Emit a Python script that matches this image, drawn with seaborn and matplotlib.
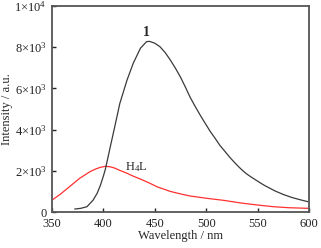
import matplotlib
matplotlib.use('Agg')
import matplotlib.pyplot as plt
import seaborn as sns
import pandas as pd

# ---------------------
# Dados
# ---------------------
wl_1 = [372, 378, 384, 390, 394, 397, 400, 402, 406, 411, 416, 423, 429, 436, 442,
        445, 450, 455, 460, 465, 470, 475, 480, 484, 489, 494, 499, 504, 509, 513,
        518, 523, 527, 531, 535, 539, 543, 548, 553, 557, 562, 567, 575, 583, 591, 599]
int_1 = [145, 180, 260, 580, 920, 1290, 1750, 2100, 3010, 4140, 5280, 6410, 7220, 7950, 8270,
         8280, 8190, 8020, 7740, 7380, 6980, 6540, 6030, 5600, 5140, 4710, 4300, 3900, 3550, 3250,
         2950, 2650, 2430, 2220, 2030, 1860, 1720, 1560, 1400, 1280, 1150, 1020, 850, 710, 600, 500]

wl_h4l = [350, 358, 367, 377, 387, 392, 397, 402, 406, 410, 416, 423, 429, 436, 445,
          452, 465, 475, 484, 500, 518, 523, 535, 550, 565, 580, 599]
int_h4l = [580, 860, 1230, 1640, 1960, 2080, 2170, 2220, 2200, 2150, 2020, 1880, 1740, 1600, 1400,
           1230, 1000, 880, 780, 670, 560, 520, 430, 340, 260, 210, 180]

xticks = [350, 400, 450, 500, 550, 600]
yticks = [0, 2000, 4000, 6000, 8000, 10000]
ytick_labels = ['0', r'$2{\times}10^3$', r'$4{\times}10^3$', r'$6{\times}10^3$',
                r'$8{\times}10^3$', r'$1{\times}10^4$']

df1 = pd.DataFrame({'x': wl_1, 'y': int_1})
df2 = pd.DataFrame({'x': wl_h4l, 'y': int_h4l})

# ---------------------
# Estilo
# ---------------------
sns.set_style('ticks')
plt.rcParams['font.family'] = ['Liberation Serif', 'DejaVu Serif']
plt.rcParams['mathtext.fontset'] = 'custom'
plt.rcParams['mathtext.rm'] = 'Liberation Serif'
plt.rcParams['mathtext.it'] = 'Liberation Serif:italic'

fig = plt.figure(figsize=(3.21, 2.48), dpi=100)
ax = fig.add_axes([0.162, 0.145, 0.801, 0.831])

sns.lineplot(data=df2, x='x', y='y', ax=ax, color='#ff3030', linewidth=0.9, sort=False)
sns.lineplot(data=df1, x='x', y='y', ax=ax, color='#3a3a3a', linewidth=0.9, sort=False)

ax.set_xlim(350, 600)
ax.set_ylim(0, 10000)
ax.set_xticks(xticks)
ax.set_yticks(yticks)
ax.set_yticklabels(ytick_labels)
ax.tick_params(direction='in', length=3, width=1, labelsize=9, colors='#222222')
ax.tick_params(axis='x', pad=4)
ax.tick_params(axis='y', pad=4)
for s in ax.spines.values():
    s.set_linewidth(1.3)
    s.set_color('#555555')

ax.set_xlabel('Wavelength / nm', fontsize=9, labelpad=0)
ax.set_ylabel('Intensity / a.u.', fontsize=9, labelpad=1)

ax.text(442, 8700, '1', fontsize=10, fontweight='bold', ha='center', va='center')
ax.text(421, 2200, r'H$_4$L', fontsize=9, ha='left', va='center')

fig.savefig('out.png', dpi=100)
